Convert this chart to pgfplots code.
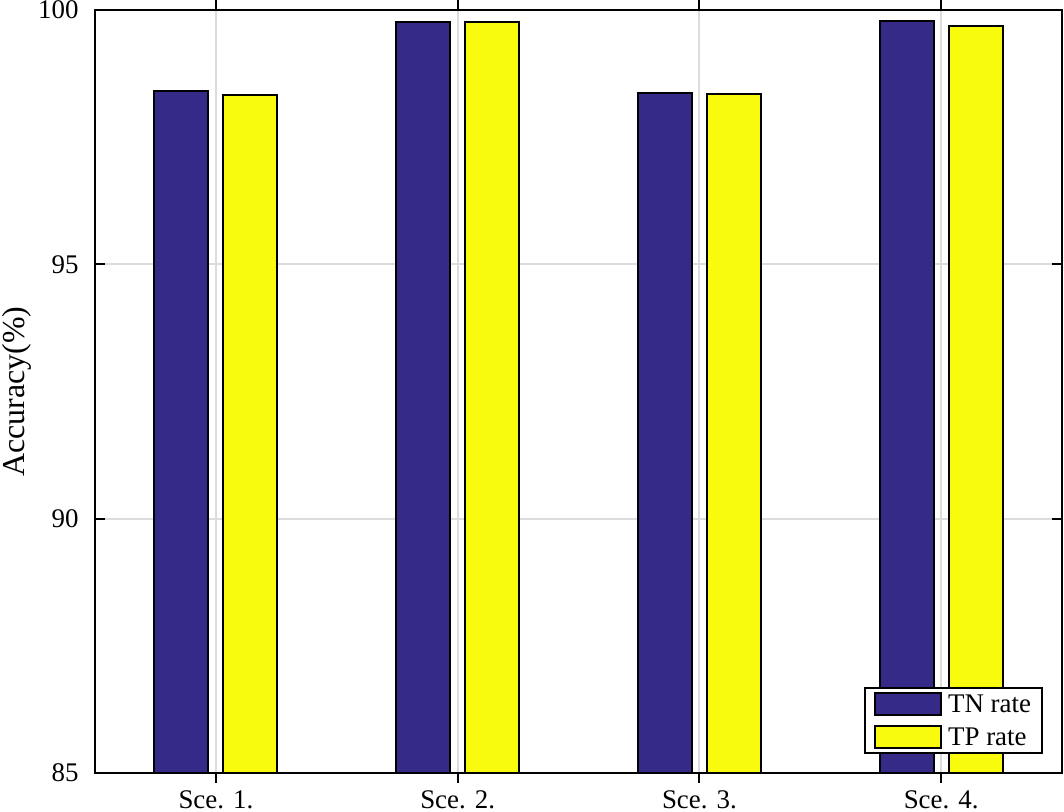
\documentclass[border=0pt]{standalone}
\usepackage{fontspec}
\setmainfont{Liberation Serif}
\usepackage{pgfplots}
\pgfplotsset{compat=1.18}
\definecolor{tnblue}{HTML}{352A87}
\definecolor{tpyellow}{HTML}{F9FB0E}
\definecolor{gridgray}{HTML}{DCDCDC}
\begin{document}
\begin{tikzpicture}[x=1bp,y=1bp]
\path[use as bounding box] (0,0) rectangle (1064,812);
\begin{axis}[
  at={(95bp,39bp)}, anchor=south west,
  scale only axis, width=967bp, height=763bp,
  xmin=-0.5, xmax=3.5, ymin=85, ymax=100,
  xtick={0,1,2,3}, xticklabels={Sce. 1., Sce. 2., Sce. 3., Sce. 4.},
  ytick={85,90,95,100},
  /pgf/number format/assume math mode=true,
  tick align=inside, tick pos=both,
  xticklabel pos=lower, yticklabel pos=left,
  major tick length=10bp,
  xmajorgrids, ymajorgrids,
  grid style={gridgray, line width=2bp},
  axis line style={line width=2bp},
  major tick style={line width=2bp, black},
  tick label style={font=\fontsize{27}{32}\selectfont},
  yticklabel style={xshift=-13bp},
  xticklabel style={yshift=-4bp},
  ylabel={Accuracy(\%)},
  ylabel style={font=\fontsize{32}{38}\selectfont, at={(axis description cs:-0.081,0.5)}, anchor=center},
  ybar=15bp, bar width=54bp,
  legend style={at={(1,0)}, anchor=south east, xshift=-19bp, yshift=19bp,
    draw=black, line width=2bp, fill=white,
    font=\fontsize{27}{32}\selectfont, row sep=9bp,
    inner xsep=9bp, inner ysep=4bp,
    /tikz/every odd column/.append style={column sep=4bp}},
  legend cell align=left,
  legend image code/.code={\draw[#1, line width=2bp] (0bp,-11bp) rectangle (66bp,11bp);},
]
\addplot[fill=tnblue, draw=black, line width=2bp] coordinates {(0,98.41) (1,99.76) (2,98.36) (3,99.78)};
\addplot[fill=tpyellow, draw=black, line width=2bp] coordinates {(0,98.32) (1,99.77) (2,98.34) (3,99.68)};
\legend{TN rate, TP rate}
\end{axis}
\end{tikzpicture}
\end{document}
